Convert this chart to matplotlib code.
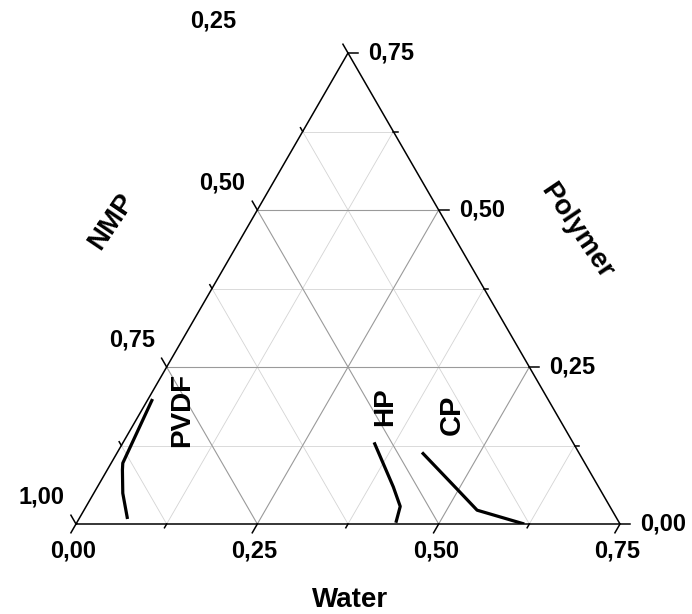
import numpy as np
import matplotlib.pyplot as plt

plt.rcParams['font.family'] = ['Liberation Sans', 'DejaVu Sans']
plt.rcParams['font.weight'] = 'bold'

# === DATA (mass fractions) ===
pvdf_water = [0.006, 0.016, 0.021, 0.040, 0.067]
pvdf_polymer = [0.199, 0.097, 0.086, 0.049, 0.008]

hp_water = [0.346, 0.408, 0.433, 0.440]
hp_polymer = [0.130, 0.059, 0.028, 0.002]

cp_water = [0.420, 0.497, 0.542, 0.618]
cp_polymer = [0.114, 0.056, 0.022, 0.000]

major_levels = [0.0, 0.25, 0.50, 0.75]
minor_levels = [0.125, 0.375, 0.625]
water_labels = ['0,00', '0,25', '0,50', '0,75']
polymer_labels = ['0,00', '0,25', '0,50', '0,75']
nmp_labels = ['1,00', '0,75', '0,50', '0,25']

SPAN = 0.75
H = np.sqrt(3) / 2


def tern(water, polymer):
    w = np.asarray(water, dtype=float)
    p = np.asarray(polymer, dtype=float)
    return w + p / 2, p * H


fig = plt.figure(figsize=(6.92, 6.14), dpi=100)
ax = fig.add_axes([76 / 692, 90 / 614, 544 / 692, 471 / 614])
ax.set_xlim(0, SPAN)
ax.set_ylim(0, SPAN * H)
ax.axis('off')

# === GRID ===
for v in minor_levels + major_levels[1:3]:
    col = '#9a9a9a' if v in major_levels else '#d4d4d4'
    lw = 0.8 if v in major_levels else 0.6
    # constant polymer
    x, y = tern([0, SPAN - v], [v, v])
    ax.plot(x, y, color=col, lw=lw, zorder=1)
    # constant water
    x, y = tern([v, v], [0, SPAN - v])
    ax.plot(x, y, color=col, lw=lw, zorder=1)
    # constant NMP
    x, y = tern([0, v], [v, 0])
    ax.plot(x, y, color=col, lw=lw, zorder=1)

# === FRAME ===
x, y = tern([0, SPAN, 0, 0], [0, 0, SPAN, 0])
ax.plot(x, y, color='black', lw=1.1, zorder=3, clip_on=False, solid_joinstyle='miter')

# === TICKS ===
def tick(base, direction, length):
    bx, by = base
    ax.plot([bx, bx + length * direction[0]], [by, by + length * direction[1]],
            color='black', lw=1.1, clip_on=False, zorder=3)

for levels, L in ((major_levels, 0.014), (minor_levels, 0.006)):
    for v in levels:
        tick(tern(v, 0), (-0.5, -H), L)                 # water
        tick(tern(SPAN - v, v), (1.0, 0.0), L)          # polymer
        tick(tern(0, v), (-0.5, H), L)                  # NMP

# === TICK LABELS ===
fs = 17
for v, lab in zip(major_levels, water_labels):
    ax.annotate(lab, xy=tern(v, 0), xytext=(-3, -27), textcoords='offset pixels',
                ha='center', va='center', fontsize=fs, fontweight='bold')
for v, lab in zip(major_levels, polymer_labels):
    ax.annotate(lab, xy=tern(SPAN - v, v), xytext=(43, 0), textcoords='offset pixels',
                ha='center', va='center', fontsize=fs, fontweight='bold')
for v, lab in zip(major_levels, nmp_labels):
    off = (-135, 32) if v == 0.75 else (-35, 27)
    ax.annotate(lab, xy=tern(0, v), xytext=off, textcoords='offset pixels',
                ha='center', va='center', fontsize=fs, fontweight='bold')

# === CURVES ===
for w, p in ((pvdf_water, pvdf_polymer), (hp_water, hp_polymer), (cp_water, cp_polymer)):
    x, y = tern(w, p)
    ax.plot(x, y, color='black', lw=2.3, zorder=4, solid_joinstyle='round',
            solid_capstyle='butt')

# === LABELS ===
def ftext(px, py, s, **kw):
    fig.text(px / 692, 1 - py / 614, s, ha='center', va='center',
             fontweight='bold', **kw)

ftext(350, 600, 'Water', fontsize=20)
ftext(112, 221, 'NMP', fontsize=20, rotation=56)
ftext(577, 231, 'Polymer', fontsize=20, rotation=-56)
ftext(182, 410, 'PVDF', fontsize=20, rotation=90)
ftext(385, 407, 'HP', fontsize=20, rotation=90)
ftext(452, 415, 'CP', fontsize=21, rotation=90)

fig.savefig('out.png', dpi=100)
